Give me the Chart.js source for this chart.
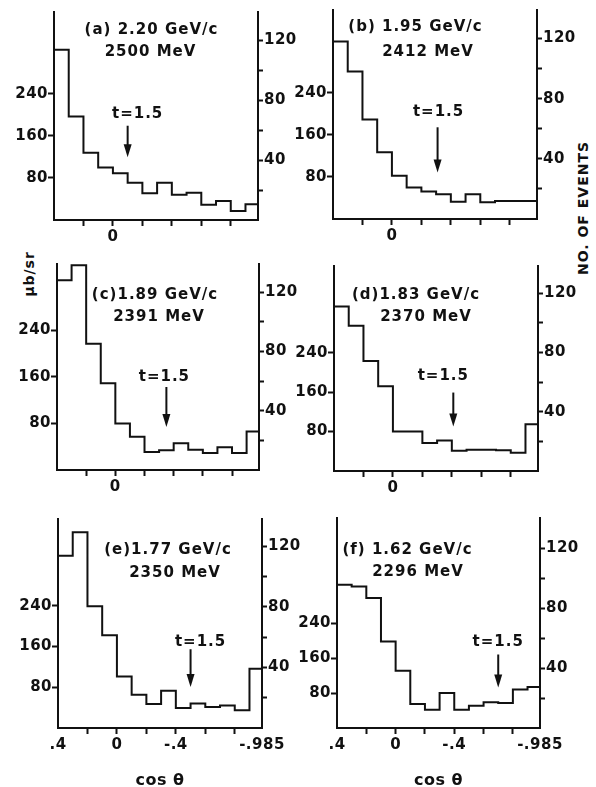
<!DOCTYPE html>
<html><head><meta charset="utf-8">
<script src="https://cdn.jsdelivr.net/npm/chart.js@4.4.0/dist/chart.umd.min.js"></script>
<style>
html,body{margin:0;padding:0;background:#fff;width:596px;height:787px;overflow:hidden;position:relative}
canvas{position:absolute}
.lab{position:absolute;font-family:"DejaVu Sans";font-weight:bold;font-size:14px;color:#111;letter-spacing:1px;white-space:nowrap;transform:translate(-50%,-50%) rotate(-90deg);}
</style></head><body>
<div class="lab" style="left:29px;top:274px">μb/sr</div>
<div class="lab" style="left:583px;top:208px">NO. OF EVENTS</div>
<script>
// ---------------- data ----------------
const binEdges = [0.4, 0.3, 0.2, 0.1, 0, -0.1, -0.2, -0.3, -0.4, -0.5, -0.6, -0.7, -0.8, -0.9, -0.985];
const panelTitles = ['(a) 2.20 GeV/c', '(b) 1.95 GeV/c', '(c)1.89 GeV/c', '(d)1.83 GeV/c', '(e)1.77 GeV/c', '(f) 1.62 GeV/c'];
const energyLabels = ['2500 MeV', '2412 MeV', '2391 MeV', '2370 MeV', '2350 MeV', '2296 MeV'];
// dσ/dΩ in μb/sr per cos θ bin
const valuesA = [324, 197, 128, 100, 89, 71, 51, 71, 48, 52, 29, 36, 17, 30];
const valuesB = [337, 280, 189, 127, 82, 60, 52, 47, 33, 47, 32, 34, 34, 34];
const valuesC = [326, 352, 217, 149, 80, 57, 31, 34, 46, 35, 29, 39, 29, 66];
const valuesD = [334, 295, 223, 172, 80, 80, 57, 62, 41, 43, 43, 42, 37, 95];
const valuesE = [338, 384, 239, 182, 101, 65, 47, 73, 39, 48, 41, 44, 35, 116];
const valuesF = [328, 324, 298, 198, 131, 55, 42, 80, 42, 51, 59, 57, 88, 94];
// cos θ where t = 1.5
const tMarks = [-0.1, -0.31, -0.35, -0.41, -0.5, -0.7];
// axis ranges / ticks
const leftMax = [396, 397, 354, 416, 410, 481];
const rightMax = [139, 139, 139, 138.5, 138, 140];
const leftTicks = [80, 160, 240];
const rightTicks = [20, 40, 60, 80, 100, 120];
const rightTickLabels = ['', '40', '', '80', '', '120'];
const xTicks = [0.4, 0.2, 0, -0.2, -0.4, -0.6, -0.8, -0.985];
const xTickLabelsBottom = ['.4', '', '0', '', '-.4', '', '', '-.985'];
const xTickLabelsUpper = ['', '', '0', '', '', '', '', ''];

const allValues = [valuesA, valuesB, valuesC, valuesD, valuesE, valuesF];

// ---------------- layout / style ----------------
const INK = '#111';
const FONT = {family: 'DejaVu Sans', size: 15, weight: 'bold'};
const padL = 48, padR = 44, padT = 10;
const layout = [
  {L: 54, T: 12, R: 258, B: 220, bottom: false, t1: [97.5, 18], t2: [96.5, 40], arrow: [63, 42, 71], labDx: 10},
  {L: 333, T: 10, R: 537, B: 219, bottom: false, t1: [82.5, 17], t2: [95, 42], arrow: [61, 31, 71], labDx: 1},
  {L: 57, T: 264, R: 259, B: 470, bottom: false, t1: [98, 31], t2: [102, 53], arrow: [56, 29, 63], labDx: -2},
  {L: 334, T: 266, R: 538, B: 471, bottom: false, t1: [82, 29], t2: [92, 51], arrow: [53, 30, 64], labDx: -10},
  {L: 58, T: 519, R: 262, B: 728, bottom: true, t1: [110, 31], t2: [117, 54], arrow: [52, 27, 57], labDx: 10},
  {L: 337, T: 518, R: 540, B: 728, bottom: true, t1: [70.5, 32], t2: [81, 54], arrow: [49, 27, 57], labDx: 0}
];

const spacing = {
  id: 'spacing',
  beforeDraw(chart) { chart.ctx.letterSpacing = '0.5px'; }
};

const annot = {
  id: 'annot',
  afterDraw(chart, args, opts) {
    const {ctx, chartArea: ca, scales} = chart;
    const i = opts.index, lay = layout[i];
    ctx.save();
    ctx.letterSpacing = '1px';
    ctx.fillStyle = INK; ctx.strokeStyle = INK;
    ctx.font = 'bold 15px "DejaVu Sans"';
    ctx.textAlign = 'center'; ctx.textBaseline = 'middle';
    ctx.fillText(panelTitles[i], ca.left + lay.t1[0], ca.top + lay.t1[1]);
    ctx.fillText(energyLabels[i], ca.left + lay.t2[0], ca.top + lay.t2[1]);
    const x = scales.x.getPixelForValue(tMarks[i]);
    const yTop = scales.y2.getPixelForValue(lay.arrow[0]);
    const yTip = scales.y2.getPixelForValue(lay.arrow[1]);
    const yLab = scales.y2.getPixelForValue(lay.arrow[2]);
    ctx.fillText('t=1.5', x + lay.labDx, yLab);
    ctx.lineWidth = 2;
    ctx.beginPath(); ctx.moveTo(x, yTop); ctx.lineTo(x, yTip - 10); ctx.stroke();
    ctx.beginPath(); ctx.moveTo(x - 4, yTip - 13); ctx.lineTo(x + 4, yTip - 13); ctx.lineTo(x, yTip); ctx.closePath(); ctx.fill();
    ctx.restore();
  }
};

function makePanel(i) {
  const lay = layout[i];
  const padB = lay.bottom ? 62 : 32;
  const cv = document.createElement('canvas');
  const w = (lay.R - lay.L) + padL + padR;
  const h = (lay.B - lay.T) + padT + padB;
  cv.width = w; cv.height = h;
  cv.style.left = (lay.L - padL) + 'px';
  cv.style.top = (lay.T - padT) + 'px';
  cv.style.width = w + 'px'; cv.style.height = h + 'px';
  document.body.appendChild(cv);
  const vals = allValues[i];
  const pts = binEdges.map((e, k) => ({x: e, y: k < vals.length ? vals[k] : vals[vals.length - 1]}));
  const xLabels = lay.bottom ? xTickLabelsBottom : xTickLabelsUpper;
  new Chart(cv, {
    type: 'line',
    data: {datasets: [{data: pts, stepped: 'before', borderColor: INK, borderWidth: 2, pointRadius: 0, fill: false, yAxisID: 'y', clip: false}]},
    plugins: [spacing, annot],
    options: {
      responsive: false, animation: false, devicePixelRatio: 1,
      layout: {padding: {top: padT, left: 0, right: 0, bottom: 0}},
      plugins: {legend: {display: false}, tooltip: {enabled: false}, annot: {index: i}},
      scales: {
        x: {
          type: 'linear', min: -0.985, max: 0.4, reverse: true,
          afterBuildTicks: s => { s.ticks = xTicks.map(v => ({value: v})); },
          afterFit: s => { s.height = padB; },
          ticks: {autoSkip: false, maxRotation: 0, padding: 2, font: FONT, color: INK,
            callback: v => { const k = xTicks.indexOf(v); return k >= 0 ? xLabels[k] : ''; }},
          grid: {drawOnChartArea: false, drawTicks: true, tickLength: 6, tickWidth: 2,
            tickColor: c => (c.tick && (c.tick.value === 0.4 || c.tick.value === -0.985)) ? 'rgba(0,0,0,0)' : INK},
          border: {display: true, color: INK, width: 2},
          title: {display: lay.bottom, text: 'cos θ', color: INK, font: {family: 'DejaVu Sans', size: 16, weight: 'bold'}, padding: {top: 0, bottom: 0}}
        },
        y: {
          position: 'left', min: 0, max: leftMax[i],
          afterBuildTicks: s => { s.ticks = leftTicks.map(v => ({value: v})); },
          afterFit: s => { s.width = padL; },
          ticks: {padding: 0, font: FONT, color: INK, callback: v => String(v)},
          grid: {drawOnChartArea: false, tickLength: 6, tickWidth: 2, tickColor: INK},
          border: {display: true, color: INK, width: 2}
        },
        y2: {
          position: 'right', min: 0, max: rightMax[i],
          afterBuildTicks: s => { s.ticks = rightTicks.map(v => ({value: v})); },
          afterFit: s => { s.width = padR; },
          ticks: {padding: 1, font: FONT, color: INK,
            callback: v => { const k = rightTicks.indexOf(v); return k >= 0 ? rightTickLabels[k] : ''; }},
          grid: {drawOnChartArea: false, tickLength: 5, tickWidth: 2, tickColor: INK},
          border: {display: true, color: INK, width: 2}
        }
      }
    }
  });
}
for (let i = 0; i < 6; i++) makePanel(i);
</script>
</body></html>
